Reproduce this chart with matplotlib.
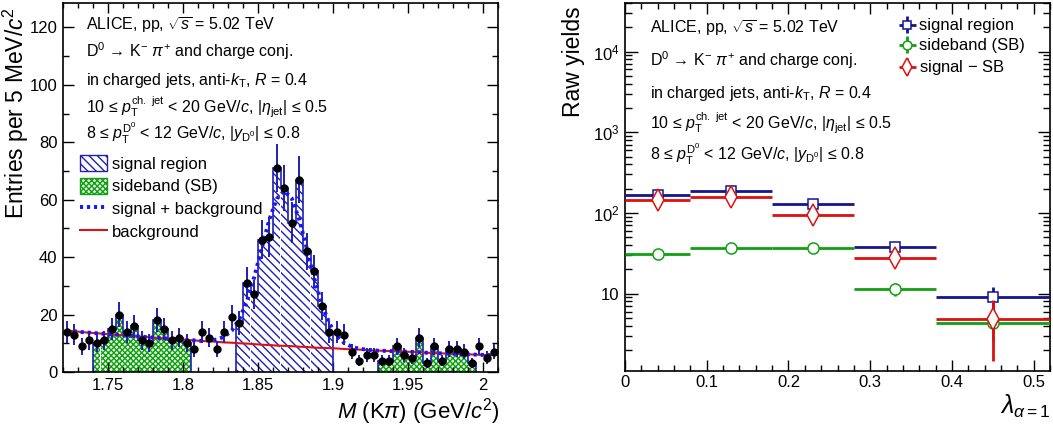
import numpy as np
import matplotlib
matplotlib.use("Agg")
import matplotlib.pyplot as plt
from matplotlib.patches import Patch
from matplotlib.lines import Line2D
from matplotlib.ticker import MultipleLocator, FixedLocator, FuncFormatter, NullFormatter

plt.rcParams['font.family'] = ['Liberation Sans', 'DejaVu Sans']
plt.rcParams['mathtext.fontset'] = 'custom'
plt.rcParams['mathtext.rm'] = 'Liberation Sans'
plt.rcParams['mathtext.it'] = 'Liberation Sans:italic'
plt.rcParams['mathtext.bf'] = 'Liberation Sans:bold'
plt.rcParams['hatch.linewidth'] = 1.0

# ---------------- data: invariant-mass panel ----------------
mass_min = 1.72
mass_max = 2.01
bin_width = 0.005
counts = [14, 13, 9, 11, 10, 11, 15, 20, 14, 16,
          11, 10, 18, 15, 11, 12, 10, 8, 14, 12,
          8, 14, 19, 17, 31, 27, 46, 47, 71, 64,
          52, 67, 42, 35, 23, 14, 14, 13, 7, 4,
          6, 6, 4, 4, 9, 6, 5, 12, 3, 9,
          4, 8, 8, 7, 3, 9, 5, 7]
bkg_fit = [14.4, 14.2, 13.9, 13.7, 13.5, 13.3, 13.1, 12.9, 12.7, 12.5,
           12.3, 12.1, 11.9, 11.7, 11.5, 11.4, 11.2, 11.0, 10.8, 10.7,
           10.5, 10.3, 10.2, 10.0, 9.9, 9.7, 9.5, 9.4, 9.2, 9.1,
           9.0, 8.8, 8.7, 8.5, 8.4, 8.3, 8.2, 8.0, 7.9, 7.8,
           7.7, 7.5, 7.4, 7.3, 7.2, 7.1, 7.0, 6.9, 6.7, 6.6,
           6.5, 6.4, 6.3, 6.2, 6.1, 6.0, 5.9, 5.9]
sb_fit = [14.4, 14.2, 13.9, 13.7, 13.5, 13.3, 13.1, 12.9, 12.7, 12.5,
          12.3, 12.1, 11.9, 11.7, 11.5, 11.4, 11.2, 11.0, 10.8, 11.0,
          11.3, 12.3, 14.4, 18.3, 24.5, 33.1, 43.1, 53.0, 60.3, 63.1,
          60.5, 53.1, 43.1, 32.6, 23.7, 17.0, 12.6, 10.1, 8.8, 8.1,
          7.8, 7.5, 7.4, 7.3, 7.2, 7.1, 7.0, 6.9, 6.7, 6.6,
          6.5, 6.4, 6.3, 6.2, 6.1, 6.0, 5.9, 5.9]
signal_region = (1.835, 1.900)
sideband_regions = [(1.740, 1.805), (1.930, 1.995)]

# ---------------- data: angularity panel ----------------
lambda_edges = [0.0, 0.08, 0.18, 0.28, 0.38, 0.52]
yield_signal = [165, 185, 130, 38, 9.0]
err_signal = [12.8, 13.6, 11.4, 6.2, 3.0]
yield_sideband = [30.7, 36.5, 37.2, 11.4, 4.3]
err_sideband = [3.5, 3.8, 3.8, 2.0, 1.7]
yield_subtracted = [145, 158, 95, 28, 4.9]
err_subtracted = [13.3, 14.1, 12.0, 6.5, 3.45]

text_lines = [r"ALICE, pp, $\sqrt{s}$ = 5.02 TeV",
              r"D$^{0}$ → K$^{-}$ $\pi^{+}$ and charge conj.",
              r"in charged jets, anti-$k_{\mathrm{T}}$, $R$ = 0.4",
              r"10 ≤ $p_{\mathrm{T}}^{\mathrm{ch.\ jet}}$ < 20 GeV/$c$, |$\eta_{\mathrm{jet}}$| ≤ 0.5",
              r"8 ≤ $p_{\mathrm{T}}^{\mathrm{D^{0}}}$ < 12 GeV/$c$, |$y_{\mathrm{D^{0}}}$| ≤ 0.8"]

BLUE = '#1f1fb4'
DBLUE = '#15158f'
GREEN = '#11a011'
RED = '#dd1111'

W, H = 1053, 425
fig = plt.figure(figsize=(W / 100, H / 100), dpi=100)
axL = fig.add_axes([63 / W, (H - 372) / H, 435 / W, 369 / H])
axR = fig.add_axes([625 / W, (H - 371) / H, 425 / W, 368 / H])

# ---------------- left panel ----------------
counts_a = np.array(counts, dtype=float)
nb = len(counts_a)
edges = mass_min + bin_width * np.arange(nb + 1)
centers = 0.5 * (edges[:-1] + edges[1:])


def region_mask(lo, hi):
    return (centers > lo) & (centers < hi)


# sidebands: green cross-hatch + blue outline
for lo, hi in sideband_regions:
    m = region_mask(lo, hi)
    axL.bar(centers[m], counts_a[m], width=bin_width, facecolor='#e8f6e8',
            edgecolor=GREEN, hatch='xxxxxx', linewidth=0, zorder=1)
    sel_edges = np.append(edges[:-1][m], edges[1:][m][-1])
    axL.stairs(counts_a[m], sel_edges, baseline=0, color=BLUE, lw=1.2, zorder=2)

# signal region: blue hatch + outline
m = region_mask(*signal_region)
axL.bar(centers[m], counts_a[m], width=bin_width, facecolor='white',
        edgecolor=BLUE, hatch='\\\\\\\\', linewidth=0, zorder=1)
sel_edges = np.append(edges[:-1][m], edges[1:][m][-1])
axL.stairs(counts_a[m], sel_edges, baseline=0, color=BLUE, lw=1.2, zorder=2)

axL.plot(centers, bkg_fit, color=RED, lw=1.5, zorder=3)
axL.plot(centers, sb_fit, color='#1515ff', lw=2.8, ls=(0, (0.8, 1.0)), zorder=4)

axL.errorbar(centers, counts_a, yerr=np.sqrt(counts_a), fmt='o', color='black',
             ms=5, ecolor=BLUE, elinewidth=1.4, capsize=0, zorder=5)

axL.set_xlim(mass_min, mass_max)
axL.set_ylim(0, 128.5)
axL.xaxis.set_major_locator(MultipleLocator(0.05))
axL.xaxis.set_minor_locator(MultipleLocator(0.01))
axL.yaxis.set_major_locator(MultipleLocator(20))
axL.yaxis.set_minor_locator(MultipleLocator(10))
axL.xaxis.set_major_formatter(FuncFormatter(lambda v, p: f"{v:g}"))

for ax in (axL, axR):
    ax.tick_params(which='both', direction='in', top=True, right=True,
                   labelsize=12, width=1.0)
    for s in ax.spines.values():
        s.set_linewidth(1.2)
axL.tick_params(axis='y', which='major', length=8, pad=4)
axL.tick_params(axis='y', which='minor', length=4.3)
axL.tick_params(axis='x', which='major', length=7, pad=4)
axL.tick_params(axis='x', which='minor', length=3.5)

axL.set_xlabel(r"$M$ (K$\pi$) (GeV/$c^{2}$)", fontsize=16, loc='right')
axL.xaxis.set_label_coords(1.005, -0.065)
axL.set_ylabel(r"Entries per 5 MeV/$c^{2}$", fontsize=16.5, loc='top')
axL.yaxis.set_label_coords(-0.074, 0.99)

ys_L = [0.927, 0.853, 0.778, 0.705, 0.631]
for t, yy in zip(text_lines, ys_L):
    axL.text(0.053, yy, t, transform=axL.transAxes, fontsize=11.5, va='baseline', ha='left')

handles_L = [Patch(facecolor='white', edgecolor=BLUE, hatch='\\\\\\\\', lw=1.0),
             Patch(facecolor='#e8f6e8', edgecolor=GREEN, hatch='xxxxxx', lw=1.0),
             Line2D([], [], color='#1515ff', lw=2.8, ls=(0, (0.8, 1.0))),
             Line2D([], [], color=RED, lw=1.5)]
labels_L = ["signal region", "sideband (SB)", "signal + background", "background"]
axL.legend(handles_L, labels_L, loc='upper left', bbox_to_anchor=(0.04, 0.588),
           frameon=False, fontsize=12, handlelength=1.6, handleheight=1.1,
           handletextpad=0.3, labelspacing=0.36, borderpad=0, borderaxespad=0)

# ---------------- right panel ----------------
le = np.array(lambda_edges)
lc = 0.5 * (le[:-1] + le[1:])
lw_half = 0.5 * (le[1:] - le[:-1])

eb_sig = axR.errorbar(lc, yield_signal, xerr=lw_half, yerr=err_signal, fmt='s',
                      color=DBLUE, mfc='white', mec=DBLUE, ms=7.5, mew=1.1,
                      elinewidth=2.0, capsize=0, zorder=3)
eb_sb = axR.errorbar(lc, yield_sideband, xerr=lw_half, yerr=err_sideband, fmt='o',
                     color=GREEN, mfc='white', mec=GREEN, ms=8, mew=1.1,
                     elinewidth=2.0, capsize=0, zorder=3)
eb_sub = axR.errorbar(lc, yield_subtracted, xerr=lw_half, yerr=err_subtracted, fmt='d',
                      color=RED, mfc='white', mec=RED, ms=11, mew=1.1,
                      elinewidth=2.0, capsize=0, zorder=4)

axR.set_yscale('log')
axR.set_xlim(0, 0.52)
axR.set_ylim(1.1, 4.0e4)
axR.xaxis.set_major_locator(MultipleLocator(0.1))
axR.xaxis.set_minor_locator(MultipleLocator(0.02))
axR.xaxis.set_major_formatter(FuncFormatter(lambda v, p: f"{v:g}"))
axR.yaxis.set_major_locator(FixedLocator([10, 100, 1000, 10000]))
minors = [k * 10.0 ** d for d in range(0, 5) for k in range(2, 10)]
axR.yaxis.set_minor_locator(FixedLocator(minors))
axR.yaxis.set_minor_formatter(NullFormatter())


def logfmt(v, p):
    e = int(round(np.log10(v)))
    return "10" if e == 1 else r"$10^{%d}$" % e


axR.yaxis.set_major_formatter(FuncFormatter(logfmt))
axR.tick_params(axis='y', which='major', length=9, pad=4)
axR.tick_params(axis='y', which='minor', length=5)
axR.tick_params(axis='x', which='major', length=8, pad=3)
axR.tick_params(axis='x', which='minor', length=4)

axR.set_xlabel(r"$\lambda_{\alpha=1}$", fontsize=18, loc='right')
axR.xaxis.set_label_coords(1.0, -0.06)
axR.set_ylabel("Raw yields", fontsize=16.5, loc='top')
axR.yaxis.set_label_coords(-0.093, 0.99)

ys_R = [0.918, 0.830, 0.743, 0.660, 0.571]
for t, yy in zip(text_lines, ys_R):
    axR.text(0.059, yy, t, transform=axR.transAxes, fontsize=11.5, va='baseline', ha='left')

axR.legend([eb_sig, eb_sb, eb_sub], ["signal region", "sideband (SB)", r"signal $-$ SB"],
           loc='upper left', bbox_to_anchor=(0.645, 0.958), frameon=False, fontsize=12,
           handlelength=1.0, handletextpad=0.2, labelspacing=0.3, borderpad=0,
           borderaxespad=0, markerscale=0.8)

fig.savefig("out.png", dpi=100)
